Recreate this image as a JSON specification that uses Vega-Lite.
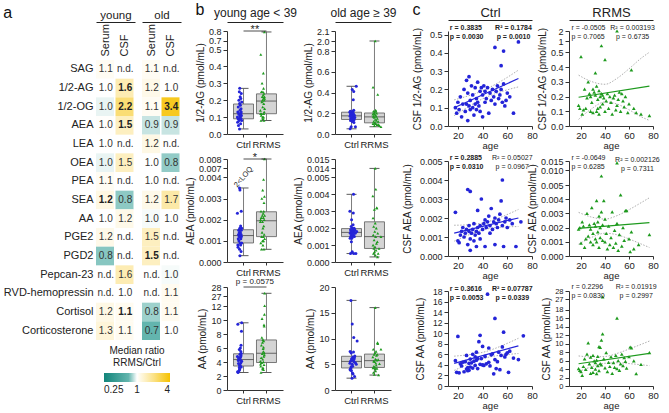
{
"$schema":"https://vega.github.io/schema/vega-lite/v6.json",
"padding":{"left":3,"top":2,"right":2,"bottom":1},
"config":{
 "font":"Liberation Sans",
 "view":{"stroke":null},
 "axis":{"labelFontSize":9,"titleFontSize":10,"titleFontWeight":"normal","labelColor":"#222","titleColor":"#222","domainColor":"#333","tickColor":"#333","tickSize":4,"labelPadding":2,"titlePadding":3,"grid":false,"labelOverlap":false,"labelFlush":false},
 "title":{"fontSize":16,"fontWeight":"normal","anchor":"start","color":"#111","frame":"bounds","offset":-12},
 "text":{"color":"#222"}
},
"datasets":{
"ann":[
{"id":"B11","g":"Ctrl","g2":"RRMS","v":0.8,"t":"**"},
{"id":"B21","g":"Ctrl","g2":"RRMS","v":0.008,"t":"*"},
{"id":"B21L","g":"Ctrl","v":0.0041,"t":"2<LOQ"},
{"id":"B31","g":"Ctrl","g2":"RRMS","v":28,"t":"p = 0.0575"},
{"id":"C11L","age":13.5,"v":0.52,"t":["r = 0.3835","p = 0.0030"]},
{"id":"C11R","age":65,"v":0.52,"t":["R² = 0.1784","p = 0.0010"]},
{"id":"C12L","age":12,"v":2,"t":["r = -0.0505","p = 0.7065"]},
{"id":"C12R","age":63,"v":2,"t":["R² = 0.003193","p = 0.6735"]},
{"id":"C21L","age":13.5,"v":0.005,"t":["r = 0.2885","p = 0.0310"]},
{"id":"C21R","age":64,"v":0.005,"t":["R² = 0.05027","p = 0.0967"]},
{"id":"C22L","age":12,"v":0.015,"t":["r = -0.0649","p = 0.6285"]},
{"id":"C22R","age":67,"v":0.015,"t":["R² = 0.002126","p = 0.7311"]},
{"id":"C31L","age":13.5,"v":18,"t":["r = 0.3616","p = 0.0053"]},
{"id":"C31R","age":64,"v":18,"t":["R² = 0.07787","p = 0.0339"]},
{"id":"C32L","age":12,"v":28,"t":["r = 0.2296","p = 0.0830"]},
{"id":"C32R","age":66,"v":28,"t":["R² = 0.01919","p = 0.2997"]}
],
"heat":[
{"m":"SAG","g":"young","t":"Serum","r":1.08,"l":"1.1","b":0},{"m":"SAG","g":"young","t":"CSF","r":null,"l":"n.d.","b":0},{"m":"SAG","g":"old","t":"Serum","r":1.08,"l":"1.1","b":0},{"m":"SAG","g":"old","t":"CSF","r":null,"l":"n.d.","b":0},
{"m":"1/2-AG","g":"young","t":"Serum","r":1.0,"l":"1.0","b":0},{"m":"1/2-AG","g":"young","t":"CSF","r":1.6,"l":"1.6","b":1},{"m":"1/2-AG","g":"old","t":"Serum","r":1.15,"l":"1.2","b":0},{"m":"1/2-AG","g":"old","t":"CSF","r":1.0,"l":"1.0","b":0},
{"m":"1/2-OG","g":"young","t":"Serum","r":0.95,"l":"1.0","b":0},{"m":"1/2-OG","g":"young","t":"CSF","r":2.2,"l":"2.2","b":1},{"m":"1/2-OG","g":"old","t":"Serum","r":1.08,"l":"1.1","b":0},{"m":"1/2-OG","g":"old","t":"CSF","r":3.4,"l":"3.4","b":1},
{"m":"AEA","g":"young","t":"Serum","r":1.02,"l":"1.0","b":0},{"m":"AEA","g":"young","t":"CSF","r":1.5,"l":"1.5","b":1},{"m":"AEA","g":"old","t":"Serum","r":0.88,"l":"0.9","b":0},{"m":"AEA","g":"old","t":"CSF","r":0.88,"l":"0.9","b":0},
{"m":"LEA","g":"young","t":"Serum","r":1.0,"l":"1.0","b":0},{"m":"LEA","g":"young","t":"CSF","r":null,"l":"n.d.","b":0},{"m":"LEA","g":"old","t":"Serum","r":1.18,"l":"1.2","b":0},{"m":"LEA","g":"old","t":"CSF","r":null,"l":"n.d.","b":0},
{"m":"OEA","g":"young","t":"Serum","r":0.95,"l":"1.0","b":0},{"m":"OEA","g":"young","t":"CSF","r":1.5,"l":"1.5","b":0},{"m":"OEA","g":"old","t":"Serum","r":1.0,"l":"1.0","b":0},{"m":"OEA","g":"old","t":"CSF","r":0.78,"l":"0.8","b":0},
{"m":"PEA","g":"young","t":"Serum","r":1.08,"l":"1.1","b":0},{"m":"PEA","g":"young","t":"CSF","r":null,"l":"n.d.","b":0},{"m":"PEA","g":"old","t":"Serum","r":1.0,"l":"1.0","b":0},{"m":"PEA","g":"old","t":"CSF","r":null,"l":"n.d.","b":0},
{"m":"SEA","g":"young","t":"Serum","r":1.2,"l":"1.2","b":1},{"m":"SEA","g":"young","t":"CSF","r":0.77,"l":"0.8","b":0},{"m":"SEA","g":"old","t":"Serum","r":1.15,"l":"1.2","b":0},{"m":"SEA","g":"old","t":"CSF","r":1.7,"l":"1.7","b":0},
{"m":"AA","g":"young","t":"Serum","r":1.0,"l":"1.0","b":0},{"m":"AA","g":"young","t":"CSF","r":1.15,"l":"1.2","b":0},{"m":"AA","g":"old","t":"Serum","r":0.98,"l":"1.0","b":0},{"m":"AA","g":"old","t":"CSF","r":1.0,"l":"1.0","b":0},
{"m":"PGE2","g":"young","t":"Serum","r":1.15,"l":"1.2","b":0},{"m":"PGE2","g":"young","t":"CSF","r":null,"l":"n.d.","b":0},{"m":"PGE2","g":"old","t":"Serum","r":1.5,"l":"1.5","b":0},{"m":"PGE2","g":"old","t":"CSF","r":null,"l":"n.d.","b":0},
{"m":"PGD2","g":"young","t":"Serum","r":0.76,"l":"0.8","b":0},{"m":"PGD2","g":"young","t":"CSF","r":null,"l":"n.d.","b":0},{"m":"PGD2","g":"old","t":"Serum","r":1.5,"l":"1.5","b":1},{"m":"PGD2","g":"old","t":"CSF","r":null,"l":"n.d.","b":0},
{"m":"Pepcan-23","g":"young","t":"Serum","r":null,"l":"n.d.","b":0},{"m":"Pepcan-23","g":"young","t":"CSF","r":1.6,"l":"1.6","b":0},{"m":"Pepcan-23","g":"old","t":"Serum","r":null,"l":"n.d.","b":0},{"m":"Pepcan-23","g":"old","t":"CSF","r":0.98,"l":"1.0","b":0},
{"m":"RVD-hemopressin","g":"young","t":"Serum","r":null,"l":"n.d.","b":0},{"m":"RVD-hemopressin","g":"young","t":"CSF","r":1.0,"l":"1.0","b":0},{"m":"RVD-hemopressin","g":"old","t":"Serum","r":null,"l":"n.d.","b":0},{"m":"RVD-hemopressin","g":"old","t":"CSF","r":1.1,"l":"1.1","b":0},
{"m":"Cortisol","g":"young","t":"Serum","r":1.18,"l":"1.2","b":0},{"m":"Cortisol","g":"young","t":"CSF","r":1.1,"l":"1.1","b":1},{"m":"Cortisol","g":"old","t":"Serum","r":0.8,"l":"0.8","b":0},{"m":"Cortisol","g":"old","t":"CSF","r":1.1,"l":"1.1","b":0},
{"m":"Corticosterone","g":"young","t":"Serum","r":1.28,"l":"1.3","b":0},{"m":"Corticosterone","g":"young","t":"CSF","r":1.1,"l":"1.1","b":0},{"m":"Corticosterone","g":"old","t":"Serum","r":0.7,"l":"0.7","b":0},{"m":"Corticosterone","g":"old","t":"CSF","r":1.0,"l":"1.0","b":0}
],
"pts":[
{"a":"AG","g":"Ctrl","age":18,"v":0.10},{"a":"AG","g":"Ctrl","age":19,"v":0.07},{"a":"AG","g":"Ctrl","age":20,"v":0.13},{"a":"AG","g":"Ctrl","age":21,"v":0.09},{"a":"AG","g":"Ctrl","age":22,"v":0.16},{"a":"AG","g":"Ctrl","age":23,"v":0.05},{"a":"AG","g":"Ctrl","age":24,"v":0.12},{"a":"AG","g":"Ctrl","age":25,"v":0.20},{"a":"AG","g":"Ctrl","age":26,"v":0.08},{"a":"AG","g":"Ctrl","age":27,"v":0.25},{"a":"AG","g":"Ctrl","age":27,"v":0.12},{"a":"AG","g":"Ctrl","age":28,"v":0.03},{"a":"AG","g":"Ctrl","age":28,"v":0.18},{"a":"AG","g":"Ctrl","age":29,"v":0.11},{"a":"AG","g":"Ctrl","age":29,"v":0.27},{"a":"AG","g":"Ctrl","age":30,"v":0.14},{"a":"AG","g":"Ctrl","age":30,"v":0.09},{"a":"AG","g":"Ctrl","age":31,"v":0.22},{"a":"AG","g":"Ctrl","age":32,"v":0.10},{"a":"AG","g":"Ctrl","age":32,"v":0.17},{"a":"AG","g":"Ctrl","age":33,"v":0.06},{"a":"AG","g":"Ctrl","age":34,"v":0.12},{"a":"AG","g":"Ctrl","age":34,"v":0.21},{"a":"AG","g":"Ctrl","age":35,"v":0.15},{"a":"AG","g":"Ctrl","age":35,"v":0.09},{"a":"AG","g":"Ctrl","age":36,"v":0.24},{"a":"AG","g":"Ctrl","age":36,"v":0.13},{"a":"AG","g":"Ctrl","age":37,"v":0.11},{"a":"AG","g":"Ctrl","age":38,"v":0.19},{"a":"AG","g":"Ctrl","age":38,"v":0.08},
{"a":"AG","g":"Ctrl","age":39,"v":0.21},{"a":"AG","g":"Ctrl","age":40,"v":0.17},{"a":"AG","g":"Ctrl","age":40,"v":0.05},{"a":"AG","g":"Ctrl","age":41,"v":0.22},{"a":"AG","g":"Ctrl","age":42,"v":0.13},{"a":"AG","g":"Ctrl","age":42,"v":0.19},{"a":"AG","g":"Ctrl","age":43,"v":0.15},{"a":"AG","g":"Ctrl","age":44,"v":0.21},{"a":"AG","g":"Ctrl","age":45,"v":0.07},{"a":"AG","g":"Ctrl","age":46,"v":0.18},{"a":"AG","g":"Ctrl","age":47,"v":0.14},{"a":"AG","g":"Ctrl","age":48,"v":0.20},{"a":"AG","g":"Ctrl","age":49,"v":0.16},{"a":"AG","g":"Ctrl","age":50,"v":0.43},{"a":"AG","g":"Ctrl","age":50,"v":0.12},{"a":"AG","g":"Ctrl","age":51,"v":0.19},{"a":"AG","g":"Ctrl","age":52,"v":0.22},{"a":"AG","g":"Ctrl","age":53,"v":0.15},{"a":"AG","g":"Ctrl","age":54,"v":0.17},{"a":"AG","g":"Ctrl","age":55,"v":0.33},{"a":"AG","g":"Ctrl","age":55,"v":0.20},{"a":"AG","g":"Ctrl","age":56,"v":0.13},{"a":"AG","g":"Ctrl","age":57,"v":0.41},{"a":"AG","g":"Ctrl","age":57,"v":0.23},{"a":"AG","g":"Ctrl","age":58,"v":0.11},{"a":"AG","g":"Ctrl","age":59,"v":0.14},{"a":"AG","g":"Ctrl","age":60,"v":0.18},{"a":"AG","g":"Ctrl","age":62,"v":0.16},{"a":"AG","g":"Ctrl","age":65,"v":0.07},{"a":"AG","g":"Ctrl","age":69,"v":0.46},
{"a":"AEA","g":"Ctrl","age":18,"v":0.0023},{"a":"AEA","g":"Ctrl","age":20,"v":0.0008},{"a":"AEA","g":"Ctrl","age":21,"v":0.0007},{"a":"AEA","g":"Ctrl","age":22,"v":0.0011},{"a":"AEA","g":"Ctrl","age":23,"v":0.0013},{"a":"AEA","g":"Ctrl","age":24,"v":0.0015},{"a":"AEA","g":"Ctrl","age":25,"v":0.0010},{"a":"AEA","g":"Ctrl","age":26,"v":0.0012},{"a":"AEA","g":"Ctrl","age":27,"v":0.0014},{"a":"AEA","g":"Ctrl","age":28,"v":0.0035},{"a":"AEA","g":"Ctrl","age":28,"v":0.0006},{"a":"AEA","g":"Ctrl","age":29,"v":0.0013},{"a":"AEA","g":"Ctrl","age":29,"v":0.0016},{"a":"AEA","g":"Ctrl","age":30,"v":0.0034},{"a":"AEA","g":"Ctrl","age":30,"v":0.0009},{"a":"AEA","g":"Ctrl","age":30,"v":0.0003},{"a":"AEA","g":"Ctrl","age":31,"v":0.0012},{"a":"AEA","g":"Ctrl","age":32,"v":0.0014},{"a":"AEA","g":"Ctrl","age":33,"v":0.0008},{"a":"AEA","g":"Ctrl","age":33,"v":0.0017},{"a":"AEA","g":"Ctrl","age":34,"v":0.0011},{"a":"AEA","g":"Ctrl","age":35,"v":0.0013},{"a":"AEA","g":"Ctrl","age":35,"v":0.0005},{"a":"AEA","g":"Ctrl","age":36,"v":0.0024},{"a":"AEA","g":"Ctrl","age":36,"v":0.0015},{"a":"AEA","g":"Ctrl","age":37,"v":0.0012},{"a":"AEA","g":"Ctrl","age":38,"v":0.0009},{"a":"AEA","g":"Ctrl","age":38,"v":0.0016},
{"a":"AEA","g":"Ctrl","age":39,"v":0.0030},{"a":"AEA","g":"Ctrl","age":40,"v":0.0014},{"a":"AEA","g":"Ctrl","age":41,"v":0.0017},{"a":"AEA","g":"Ctrl","age":42,"v":0.0005},{"a":"AEA","g":"Ctrl","age":42,"v":0.0019},{"a":"AEA","g":"Ctrl","age":43,"v":0.0015},{"a":"AEA","g":"Ctrl","age":44,"v":0.0018},{"a":"AEA","g":"Ctrl","age":45,"v":0.0021},{"a":"AEA","g":"Ctrl","age":46,"v":0.0012},{"a":"AEA","g":"Ctrl","age":46,"v":0.0016},{"a":"AEA","g":"Ctrl","age":47,"v":0.0025},{"a":"AEA","g":"Ctrl","age":48,"v":0.0014},{"a":"AEA","g":"Ctrl","age":49,"v":0.0018},{"a":"AEA","g":"Ctrl","age":50,"v":0.0020},{"a":"AEA","g":"Ctrl","age":50,"v":0.0006},{"a":"AEA","g":"Ctrl","age":51,"v":0.0017},{"a":"AEA","g":"Ctrl","age":52,"v":0.0015},{"a":"AEA","g":"Ctrl","age":53,"v":0.0019},{"a":"AEA","g":"Ctrl","age":54,"v":0.0022},{"a":"AEA","g":"Ctrl","age":55,"v":0.0029},{"a":"AEA","g":"Ctrl","age":56,"v":0.0040},{"a":"AEA","g":"Ctrl","age":56,"v":0.0016},{"a":"AEA","g":"Ctrl","age":57,"v":0.0005},{"a":"AEA","g":"Ctrl","age":58,"v":0.0018},{"a":"AEA","g":"Ctrl","age":59,"v":0.0020},{"a":"AEA","g":"Ctrl","age":60,"v":0.0015},{"a":"AEA","g":"Ctrl","age":62,"v":0.0019},{"a":"AEA","g":"Ctrl","age":64,"v":0.0017},{"a":"AEA","g":"Ctrl","age":67,"v":0.0005},{"a":"AEA","g":"Ctrl","age":71,"v":0.0018},
{"a":"AA","g":"Ctrl","age":18,"v":4.8},{"a":"AA","g":"Ctrl","age":19,"v":2.6},{"a":"AA","g":"Ctrl","age":20,"v":9.4},{"a":"AA","g":"Ctrl","age":21,"v":2.5},{"a":"AA","g":"Ctrl","age":22,"v":4.2},{"a":"AA","g":"Ctrl","age":23,"v":3.8},{"a":"AA","g":"Ctrl","age":24,"v":4.5},{"a":"AA","g":"Ctrl","age":25,"v":2.7},{"a":"AA","g":"Ctrl","age":26,"v":4.6},{"a":"AA","g":"Ctrl","age":27,"v":3.2},{"a":"AA","g":"Ctrl","age":27,"v":5.8},{"a":"AA","g":"Ctrl","age":28,"v":3.5},{"a":"AA","g":"Ctrl","age":28,"v":2.9},{"a":"AA","g":"Ctrl","age":29,"v":4.3},{"a":"AA","g":"Ctrl","age":29,"v":3.0},{"a":"AA","g":"Ctrl","age":30,"v":5.1},{"a":"AA","g":"Ctrl","age":30,"v":3.6},{"a":"AA","g":"Ctrl","age":31,"v":4.4},{"a":"AA","g":"Ctrl","age":32,"v":6.0},{"a":"AA","g":"Ctrl","age":32,"v":3.4},{"a":"AA","g":"Ctrl","age":33,"v":4.7},{"a":"AA","g":"Ctrl","age":34,"v":5.5},{"a":"AA","g":"Ctrl","age":34,"v":3.9},{"a":"AA","g":"Ctrl","age":35,"v":4.9},{"a":"AA","g":"Ctrl","age":35,"v":6.4},{"a":"AA","g":"Ctrl","age":36,"v":3.3},{"a":"AA","g":"Ctrl","age":36,"v":5.2},{"a":"AA","g":"Ctrl","age":37,"v":8.4},{"a":"AA","g":"Ctrl","age":38,"v":9.6},{"a":"AA","g":"Ctrl","age":38,"v":4.1},
{"a":"AA","g":"Ctrl","age":39,"v":5.2},{"a":"AA","g":"Ctrl","age":40,"v":4.0},{"a":"AA","g":"Ctrl","age":40,"v":7.5},{"a":"AA","g":"Ctrl","age":41,"v":3.9},{"a":"AA","g":"Ctrl","age":42,"v":5.6},{"a":"AA","g":"Ctrl","age":43,"v":4.2},{"a":"AA","g":"Ctrl","age":44,"v":17.4},{"a":"AA","g":"Ctrl","age":45,"v":7.2},{"a":"AA","g":"Ctrl","age":45,"v":4.5},{"a":"AA","g":"Ctrl","age":46,"v":3.8},{"a":"AA","g":"Ctrl","age":47,"v":5.9},{"a":"AA","g":"Ctrl","age":48,"v":6.1},{"a":"AA","g":"Ctrl","age":49,"v":2.3},{"a":"AA","g":"Ctrl","age":50,"v":12.8},{"a":"AA","g":"Ctrl","age":50,"v":5.0},{"a":"AA","g":"Ctrl","age":51,"v":3.3},{"a":"AA","g":"Ctrl","age":52,"v":4.6},{"a":"AA","g":"Ctrl","age":53,"v":6.4},{"a":"AA","g":"Ctrl","age":54,"v":3.1},{"a":"AA","g":"Ctrl","age":55,"v":5.8},{"a":"AA","g":"Ctrl","age":56,"v":7.4},{"a":"AA","g":"Ctrl","age":57,"v":10.2},{"a":"AA","g":"Ctrl","age":58,"v":5.5},{"a":"AA","g":"Ctrl","age":59,"v":6.0},{"a":"AA","g":"Ctrl","age":60,"v":6.3},{"a":"AA","g":"Ctrl","age":61,"v":2.6},{"a":"AA","g":"Ctrl","age":62,"v":6.6},{"a":"AA","g":"Ctrl","age":65,"v":5.3},{"a":"AA","g":"Ctrl","age":69,"v":5.0},{"a":"AA","g":"Ctrl","age":73,"v":9.5},
{"a":"AG","g":"RRMS","age":18,"v":0.14},{"a":"AG","g":"RRMS","age":19,"v":0.12},{"a":"AG","g":"RRMS","age":20,"v":0.47},{"a":"AG","g":"RRMS","age":21,"v":0.08},{"a":"AG","g":"RRMS","age":22,"v":0.11},{"a":"AG","g":"RRMS","age":23,"v":0.25},{"a":"AG","g":"RRMS","age":24,"v":0.12},{"a":"AG","g":"RRMS","age":25,"v":0.19},{"a":"AG","g":"RRMS","age":26,"v":0.30},{"a":"AG","g":"RRMS","age":27,"v":0.22},{"a":"AG","g":"RRMS","age":28,"v":0.10},{"a":"AG","g":"RRMS","age":28,"v":0.20},{"a":"AG","g":"RRMS","age":29,"v":0.16},{"a":"AG","g":"RRMS","age":30,"v":0.25},{"a":"AG","g":"RRMS","age":30,"v":0.09},{"a":"AG","g":"RRMS","age":31,"v":0.23},{"a":"AG","g":"RRMS","age":32,"v":0.36},{"a":"AG","g":"RRMS","age":32,"v":0.21},{"a":"AG","g":"RRMS","age":33,"v":0.10},{"a":"AG","g":"RRMS","age":33,"v":0.27},{"a":"AG","g":"RRMS","age":34,"v":0.18},{"a":"AG","g":"RRMS","age":34,"v":0.12},{"a":"AG","g":"RRMS","age":35,"v":0.24},{"a":"AG","g":"RRMS","age":35,"v":0.08},{"a":"AG","g":"RRMS","age":36,"v":0.20},{"a":"AG","g":"RRMS","age":36,"v":0.13},{"a":"AG","g":"RRMS","age":37,"v":0.79},{"a":"AG","g":"RRMS","age":37,"v":0.22},{"a":"AG","g":"RRMS","age":38,"v":0.21},{"a":"AG","g":"RRMS","age":38,"v":0.15},
{"a":"AG","g":"RRMS","age":39,"v":0.19},{"a":"AG","g":"RRMS","age":40,"v":0.45},{"a":"AG","g":"RRMS","age":40,"v":0.10},{"a":"AG","g":"RRMS","age":41,"v":0.17},{"a":"AG","g":"RRMS","age":42,"v":0.22},{"a":"AG","g":"RRMS","age":43,"v":0.12},{"a":"AG","g":"RRMS","age":44,"v":0.20},{"a":"AG","g":"RRMS","age":45,"v":0.16},{"a":"AG","g":"RRMS","age":46,"v":0.08},{"a":"AG","g":"RRMS","age":47,"v":0.19},{"a":"AG","g":"RRMS","age":48,"v":0.21},{"a":"AG","g":"RRMS","age":49,"v":0.11},{"a":"AG","g":"RRMS","age":50,"v":2.0},{"a":"AG","g":"RRMS","age":50,"v":0.14},{"a":"AG","g":"RRMS","age":51,"v":0.18},{"a":"AG","g":"RRMS","age":52,"v":0.23},{"a":"AG","g":"RRMS","age":53,"v":0.10},{"a":"AG","g":"RRMS","age":54,"v":0.22},{"a":"AG","g":"RRMS","age":55,"v":0.17},{"a":"AG","g":"RRMS","age":56,"v":0.13},{"a":"AG","g":"RRMS","age":57,"v":0.20},{"a":"AG","g":"RRMS","age":59,"v":0.09},{"a":"AG","g":"RRMS","age":60,"v":0.15},{"a":"AG","g":"RRMS","age":62,"v":0.38},{"a":"AG","g":"RRMS","age":64,"v":0.12},{"a":"AG","g":"RRMS","age":66,"v":0.09},{"a":"AG","g":"RRMS","age":70,"v":0.08},{"a":"AG","g":"RRMS","age":77,"v":0.07},
{"a":"AEA","g":"RRMS","age":18,"v":0.0019},{"a":"AEA","g":"RRMS","age":19,"v":0.0020},{"a":"AEA","g":"RRMS","age":20,"v":0.0009},{"a":"AEA","g":"RRMS","age":21,"v":0.0024},{"a":"AEA","g":"RRMS","age":22,"v":0.0021},{"a":"AEA","g":"RRMS","age":23,"v":0.0006},{"a":"AEA","g":"RRMS","age":24,"v":0.0012},{"a":"AEA","g":"RRMS","age":25,"v":0.0030},{"a":"AEA","g":"RRMS","age":26,"v":0.0014},{"a":"AEA","g":"RRMS","age":27,"v":0.0022},{"a":"AEA","g":"RRMS","age":28,"v":0.0010},{"a":"AEA","g":"RRMS","age":28,"v":0.0019},{"a":"AEA","g":"RRMS","age":29,"v":0.0034},{"a":"AEA","g":"RRMS","age":30,"v":0.0016},{"a":"AEA","g":"RRMS","age":30,"v":0.0008},{"a":"AEA","g":"RRMS","age":31,"v":0.0023},{"a":"AEA","g":"RRMS","age":32,"v":0.0012},{"a":"AEA","g":"RRMS","age":32,"v":0.0021},{"a":"AEA","g":"RRMS","age":33,"v":0.0039},{"a":"AEA","g":"RRMS","age":33,"v":0.0010},{"a":"AEA","g":"RRMS","age":34,"v":0.0024},{"a":"AEA","g":"RRMS","age":34,"v":0.0017},{"a":"AEA","g":"RRMS","age":35,"v":0.0006},{"a":"AEA","g":"RRMS","age":35,"v":0.0028},{"a":"AEA","g":"RRMS","age":36,"v":0.0020},{"a":"AEA","g":"RRMS","age":36,"v":0.0013},{"a":"AEA","g":"RRMS","age":37,"v":0.0080},{"a":"AEA","g":"RRMS","age":37,"v":0.0031},{"a":"AEA","g":"RRMS","age":38,"v":0.0022},{"a":"AEA","g":"RRMS","age":38,"v":0.0011},
{"a":"AEA","g":"RRMS","age":39,"v":0.0039},{"a":"AEA","g":"RRMS","age":40,"v":0.0010},{"a":"AEA","g":"RRMS","age":40,"v":0.0026},{"a":"AEA","g":"RRMS","age":41,"v":0.0016},{"a":"AEA","g":"RRMS","age":42,"v":0.0005},{"a":"AEA","g":"RRMS","age":43,"v":0.0021},{"a":"AEA","g":"RRMS","age":44,"v":0.0008},{"a":"AEA","g":"RRMS","age":45,"v":0.0013},{"a":"AEA","g":"RRMS","age":46,"v":0.0031},{"a":"AEA","g":"RRMS","age":47,"v":0.0006},{"a":"AEA","g":"RRMS","age":48,"v":0.0018},{"a":"AEA","g":"RRMS","age":49,"v":0.0009},{"a":"AEA","g":"RRMS","age":50,"v":0.0140},{"a":"AEA","g":"RRMS","age":50,"v":0.0023},{"a":"AEA","g":"RRMS","age":51,"v":0.0004},{"a":"AEA","g":"RRMS","age":52,"v":0.0015},{"a":"AEA","g":"RRMS","age":53,"v":0.0043},{"a":"AEA","g":"RRMS","age":54,"v":0.0007},{"a":"AEA","g":"RRMS","age":55,"v":0.0020},{"a":"AEA","g":"RRMS","age":56,"v":0.0011},{"a":"AEA","g":"RRMS","age":57,"v":0.0032},{"a":"AEA","g":"RRMS","age":58,"v":0.0032},{"a":"AEA","g":"RRMS","age":60,"v":0.0012},{"a":"AEA","g":"RRMS","age":61,"v":0.0003},{"a":"AEA","g":"RRMS","age":62,"v":0.0017},{"a":"AEA","g":"RRMS","age":64,"v":0.0005},{"a":"AEA","g":"RRMS","age":68,"v":0.0008},{"a":"AEA","g":"RRMS","age":77,"v":0.0015},
{"a":"AA","g":"RRMS","age":18,"v":4.1},{"a":"AA","g":"RRMS","age":19,"v":3.7},{"a":"AA","g":"RRMS","age":20,"v":3.4},{"a":"AA","g":"RRMS","age":21,"v":2.5},{"a":"AA","g":"RRMS","age":22,"v":4.6},{"a":"AA","g":"RRMS","age":23,"v":6.4},{"a":"AA","g":"RRMS","age":24,"v":3.9},{"a":"AA","g":"RRMS","age":25,"v":7.5},{"a":"AA","g":"RRMS","age":26,"v":10.2},{"a":"AA","g":"RRMS","age":27,"v":5.2},{"a":"AA","g":"RRMS","age":28,"v":3.0},{"a":"AA","g":"RRMS","age":28,"v":6.8},{"a":"AA","g":"RRMS","age":29,"v":4.4},{"a":"AA","g":"RRMS","age":30,"v":7.2},{"a":"AA","g":"RRMS","age":30,"v":3.2},{"a":"AA","g":"RRMS","age":31,"v":5.9},{"a":"AA","g":"RRMS","age":32,"v":4.0},{"a":"AA","g":"RRMS","age":32,"v":5.5},{"a":"AA","g":"RRMS","age":33,"v":6.1},{"a":"AA","g":"RRMS","age":33,"v":2.9},{"a":"AA","g":"RRMS","age":34,"v":7.0},{"a":"AA","g":"RRMS","age":34,"v":4.8},{"a":"AA","g":"RRMS","age":35,"v":9.3},{"a":"AA","g":"RRMS","age":35,"v":3.6},{"a":"AA","g":"RRMS","age":36,"v":5.3},{"a":"AA","g":"RRMS","age":36,"v":9.1},{"a":"AA","g":"RRMS","age":37,"v":10.8},{"a":"AA","g":"RRMS","age":37,"v":5.0},{"a":"AA","g":"RRMS","age":38,"v":27.3},{"a":"AA","g":"RRMS","age":38,"v":12.3},
{"a":"AA","g":"RRMS","age":39,"v":6.4},{"a":"AA","g":"RRMS","age":40,"v":4.3},{"a":"AA","g":"RRMS","age":41,"v":7.9},{"a":"AA","g":"RRMS","age":42,"v":3.4},{"a":"AA","g":"RRMS","age":43,"v":5.6},{"a":"AA","g":"RRMS","age":44,"v":4.6},{"a":"AA","g":"RRMS","age":45,"v":6.9},{"a":"AA","g":"RRMS","age":46,"v":3.0},{"a":"AA","g":"RRMS","age":47,"v":5.5},{"a":"AA","g":"RRMS","age":48,"v":4.4},{"a":"AA","g":"RRMS","age":49,"v":7.2},{"a":"AA","g":"RRMS","age":50,"v":16.0},{"a":"AA","g":"RRMS","age":50,"v":4.1},{"a":"AA","g":"RRMS","age":51,"v":6.0},{"a":"AA","g":"RRMS","age":52,"v":3.7},{"a":"AA","g":"RRMS","age":53,"v":5.2},{"a":"AA","g":"RRMS","age":54,"v":7.5},{"a":"AA","g":"RRMS","age":55,"v":4.8},{"a":"AA","g":"RRMS","age":56,"v":6.7},{"a":"AA","g":"RRMS","age":57,"v":5.8},{"a":"AA","g":"RRMS","age":58,"v":4.2},{"a":"AA","g":"RRMS","age":60,"v":6.9},{"a":"AA","g":"RRMS","age":61,"v":9.2},{"a":"AA","g":"RRMS","age":62,"v":9.0},{"a":"AA","g":"RRMS","age":64,"v":5.9},{"a":"AA","g":"RRMS","age":66,"v":2.9},{"a":"AA","g":"RRMS","age":70,"v":5.1},{"a":"AA","g":"RRMS","age":77,"v":7.9}
],
"fit":[
{"a":"AG","g":"Ctrl","k":"fit","age":17,"v":0.100},{"a":"AG","g":"Ctrl","k":"fit","age":69,"v":0.260},
{"a":"AG","g":"Ctrl","k":"hi","age":17,"v":0.143},{"a":"AG","g":"Ctrl","k":"hi","age":25,"v":0.158},{"a":"AG","g":"Ctrl","k":"hi","age":33,"v":0.175},{"a":"AG","g":"Ctrl","k":"hi","age":42,"v":0.199},{"a":"AG","g":"Ctrl","k":"hi","age":50,"v":0.227},{"a":"AG","g":"Ctrl","k":"hi","age":58,"v":0.258},{"a":"AG","g":"Ctrl","k":"hi","age":69,"v":0.306},
{"a":"AG","g":"Ctrl","k":"lo","age":17,"v":0.057},{"a":"AG","g":"Ctrl","k":"lo","age":25,"v":0.091},{"a":"AG","g":"Ctrl","k":"lo","age":33,"v":0.124},{"a":"AG","g":"Ctrl","k":"lo","age":42,"v":0.155},{"a":"AG","g":"Ctrl","k":"lo","age":50,"v":0.176},{"a":"AG","g":"Ctrl","k":"lo","age":58,"v":0.194},{"a":"AG","g":"Ctrl","k":"lo","age":69,"v":0.214},
{"a":"AEA","g":"Ctrl","k":"fit","age":17,"v":0.0012},{"a":"AEA","g":"Ctrl","k":"fit","age":69,"v":0.0020},
{"a":"AEA","g":"Ctrl","k":"hi","age":17,"v":0.00162},{"a":"AEA","g":"Ctrl","k":"hi","age":25,"v":0.00163},{"a":"AEA","g":"Ctrl","k":"hi","age":33,"v":0.00168},{"a":"AEA","g":"Ctrl","k":"hi","age":42,"v":0.00176},{"a":"AEA","g":"Ctrl","k":"hi","age":50,"v":0.00193},{"a":"AEA","g":"Ctrl","k":"hi","age":58,"v":0.00213},{"a":"AEA","g":"Ctrl","k":"hi","age":69,"v":0.00245},
{"a":"AEA","g":"Ctrl","k":"lo","age":17,"v":0.00078},{"a":"AEA","g":"Ctrl","k":"lo","age":25,"v":0.00101},{"a":"AEA","g":"Ctrl","k":"lo","age":33,"v":0.00122},{"a":"AEA","g":"Ctrl","k":"lo","age":42,"v":0.00140},{"a":"AEA","g":"Ctrl","k":"lo","age":50,"v":0.00149},{"a":"AEA","g":"Ctrl","k":"lo","age":58,"v":0.00153},{"a":"AEA","g":"Ctrl","k":"lo","age":69,"v":0.00155},
{"a":"AA","g":"Ctrl","k":"fit","age":17,"v":4.3},{"a":"AA","g":"Ctrl","k":"fit","age":69,"v":7.6},
{"a":"AA","g":"Ctrl","k":"hi","age":17,"v":5.65},{"a":"AA","g":"Ctrl","k":"hi","age":25,"v":5.83},{"a":"AA","g":"Ctrl","k":"hi","age":33,"v":6.06},{"a":"AA","g":"Ctrl","k":"hi","age":42,"v":6.49},{"a":"AA","g":"Ctrl","k":"hi","age":50,"v":7.11},{"a":"AA","g":"Ctrl","k":"hi","age":58,"v":7.88},{"a":"AA","g":"Ctrl","k":"hi","age":69,"v":9.04},
{"a":"AA","g":"Ctrl","k":"lo","age":17,"v":2.95},{"a":"AA","g":"Ctrl","k":"lo","age":25,"v":3.79},{"a":"AA","g":"Ctrl","k":"lo","age":33,"v":4.58},{"a":"AA","g":"Ctrl","k":"lo","age":42,"v":5.29},{"a":"AA","g":"Ctrl","k":"lo","age":50,"v":5.69},{"a":"AA","g":"Ctrl","k":"lo","age":58,"v":5.92},{"a":"AA","g":"Ctrl","k":"lo","age":69,"v":6.16},
{"a":"AG","g":"RRMS","k":"fit","age":18,"v":0.195},{"a":"AG","g":"RRMS","k":"fit","age":77,"v":0.270},
{"a":"AG","g":"RRMS","k":"hi","age":18,"v":0.345},{"a":"AG","g":"RRMS","k":"hi","age":28,"v":0.304},{"a":"AG","g":"RRMS","k":"hi","age":40,"v":0.283},{"a":"AG","g":"RRMS","k":"hi","age":50,"v":0.323},{"a":"AG","g":"RRMS","k":"hi","age":60,"v":0.388},{"a":"AG","g":"RRMS","k":"hi","age":70,"v":0.459},{"a":"AG","g":"RRMS","k":"hi","age":77,"v":0.502},
{"a":"AG","g":"RRMS","k":"lo","age":18,"v":0.045},{"a":"AG","g":"RRMS","k":"lo","age":28,"v":0.112},{"a":"AG","g":"RRMS","k":"lo","age":40,"v":0.163},{"a":"AG","g":"RRMS","k":"lo","age":50,"v":0.149},{"a":"AG","g":"RRMS","k":"lo","age":60,"v":0.110},{"a":"AG","g":"RRMS","k":"lo","age":70,"v":0.063},{"a":"AG","g":"RRMS","k":"lo","age":77,"v":0.038},
{"a":"AEA","g":"RRMS","k":"fit","age":18,"v":0.00195},{"a":"AEA","g":"RRMS","k":"fit","age":77,"v":0.00235},
{"a":"AEA","g":"RRMS","k":"hi","age":18,"v":0.00307},{"a":"AEA","g":"RRMS","k":"hi","age":28,"v":0.00276},{"a":"AEA","g":"RRMS","k":"hi","age":40,"v":0.00260},{"a":"AEA","g":"RRMS","k":"hi","age":50,"v":0.00284},{"a":"AEA","g":"RRMS","k":"hi","age":60,"v":0.00326},{"a":"AEA","g":"RRMS","k":"hi","age":70,"v":0.00375},{"a":"AEA","g":"RRMS","k":"hi","age":77,"v":0.00410},
{"a":"AEA","g":"RRMS","k":"lo","age":18,"v":0.00083},{"a":"AEA","g":"RRMS","k":"lo","age":28,"v":0.00128},{"a":"AEA","g":"RRMS","k":"lo","age":40,"v":0.00160},{"a":"AEA","g":"RRMS","k":"lo","age":50,"v":0.00150},{"a":"AEA","g":"RRMS","k":"lo","age":60,"v":0.00120},{"a":"AEA","g":"RRMS","k":"lo","age":70,"v":0.00085},{"a":"AEA","g":"RRMS","k":"lo","age":77,"v":0.00060},
{"a":"AA","g":"RRMS","k":"fit","age":18,"v":5.25},{"a":"AA","g":"RRMS","k":"fit","age":77,"v":7.7},
{"a":"AA","g":"RRMS","k":"hi","age":18,"v":7.09},{"a":"AA","g":"RRMS","k":"hi","age":28,"v":6.88},{"a":"AA","g":"RRMS","k":"hi","age":40,"v":6.96},{"a":"AA","g":"RRMS","k":"hi","age":50,"v":7.68},{"a":"AA","g":"RRMS","k":"hi","age":60,"v":8.71},{"a":"AA","g":"RRMS","k":"hi","age":70,"v":9.81},{"a":"AA","g":"RRMS","k":"hi","age":77,"v":10.6},
{"a":"AA","g":"RRMS","k":"lo","age":18,"v":3.41},{"a":"AA","g":"RRMS","k":"lo","age":28,"v":4.46},{"a":"AA","g":"RRMS","k":"lo","age":40,"v":5.36},{"a":"AA","g":"RRMS","k":"lo","age":50,"v":5.48},{"a":"AA","g":"RRMS","k":"lo","age":60,"v":5.29},{"a":"AA","g":"RRMS","k":"lo","age":70,"v":5.01},{"a":"AA","g":"RRMS","k":"lo","age":77,"v":4.80}
]
},
"columns":3,
"align":"none",
"spacing":4,
"resolve":{"scale":{"color":"independent","shape":"independent"}},
"concat":[
{
 "spacing":7,
 "bounds":"flush",
 "resolve":{"scale":{"color":"independent"}},
 "hconcat":[
  {
   "title":{"text":"a"},
   "width":39,"height":309,
   "data":{"name":"heat"},
   "transform":[{"filter":"datum.g=='young'"}],
   "encoding":{
    "x":{"field":"t","type":"nominal","sort":["Serum","CSF"],"scale":{"paddingInner":0,"paddingOuter":0},"axis":{"orient":"top","offset":-29,"title":null,"labelAngle":-90,"domain":false,"ticks":false,"labelPadding":4,"labelFontSize":11}},
    "y":{"field":"m","type":"nominal","sort":["SAG","1/2-AG","1/2-OG","AEA","LEA","OEA","PEA","SEA","AA","PGE2","PGD2","Pepcan-23","RVD-hemopressin","Cortisol","Corticosterone"],"scale":{"paddingInner":0,"paddingOuter":0,"range":[29,309]},"axis":{"title":null,"domain":false,"ticks":false,"labelPadding":3,"labelFontSize":11}}
   },
   "layer":[
    {"transform":[{"filter":"isValid(datum.r)"}],"mark":{"type":"rect"},"encoding":{"color":{"field":"r","type":"quantitative","scale":{"type":"log","domain":[0.25,0.7,1,1.5,4],"range":["#12857a","#63b5ae","#ffffff","#fdefc0","#f6c200"],"interpolate":"rgb"},"legend":{"orient":"none","legendX":8,"legendY":315,"direction":"horizontal","title":["Median ratio","RRMS/Ctrl"],"titleFontSize":10,"titleFontWeight":"normal","titleColor":"#222","titleAlign":"center","titleAnchor":"middle","gradientLength":66,"gradientThickness":9,"values":[0.25,1,4],"format":"~g","labelFontSize":10,"labelAlign":"center","labelColor":"#222","labelOffset":3}}}},
    {"transform":[{"filter":"datum.b==0"}],"mark":{"type":"text","fontSize":10,"color":"#333"},"encoding":{"x":{"field":"t","type":"nominal","sort":["Serum","CSF"],"axis":null},"text":{"field":"l","type":"nominal"}}},
    {"transform":[{"filter":"datum.b==1"}],"mark":{"type":"text","fontSize":10,"fontWeight":"bold","color":"#222"},"encoding":{"x":{"field":"t","type":"nominal","sort":["Serum","CSF"],"axis":{"orient":"top","labels":false,"ticks":false,"domain":true,"domainColor":"#222","offset":9,"title":"young","titleFontSize":11.5,"titlePadding":2}},"text":{"field":"l","type":"nominal"}}}
   ],
   "resolve":{"axis":{"x":"independent"}}
  },
  {
   "width":39,"height":309,
   "data":{"name":"heat"},
   "transform":[{"filter":"datum.g=='old'"}],
   "encoding":{
    "x":{"field":"t","type":"nominal","sort":["Serum","CSF"],"scale":{"paddingInner":0,"paddingOuter":0},"axis":{"orient":"top","offset":-29,"title":null,"labelAngle":-90,"domain":false,"ticks":false,"labelPadding":4,"labelFontSize":11}},
    "y":{"field":"m","type":"nominal","sort":["SAG","1/2-AG","1/2-OG","AEA","LEA","OEA","PEA","SEA","AA","PGE2","PGD2","Pepcan-23","RVD-hemopressin","Cortisol","Corticosterone"],"scale":{"paddingInner":0,"paddingOuter":0,"range":[29,309]},"axis":null}
   },
   "layer":[
    {"transform":[{"filter":"isValid(datum.r)"}],"mark":{"type":"rect"},"encoding":{"color":{"field":"r","type":"quantitative","scale":{"type":"log","domain":[0.25,0.7,1,1.5,4],"range":["#12857a","#63b5ae","#ffffff","#fdefc0","#f6c200"],"interpolate":"rgb"},"legend":null}}},
    {"transform":[{"filter":"datum.b==0"}],"mark":{"type":"text","fontSize":10,"color":"#333"},"encoding":{"x":{"field":"t","type":"nominal","sort":["Serum","CSF"],"axis":null},"text":{"field":"l","type":"nominal"}}},
    {"transform":[{"filter":"datum.b==1"}],"mark":{"type":"text","fontSize":10,"fontWeight":"bold","color":"#222"},"encoding":{"x":{"field":"t","type":"nominal","sort":["Serum","CSF"],"axis":{"orient":"top","labels":false,"ticks":false,"domain":true,"domainColor":"#222","offset":9,"title":"old","titleFontSize":11.5,"titlePadding":2}},"text":{"field":"l","type":"nominal"}}}
   ],
   "resolve":{"axis":{"x":"independent"}}
  }
 ]
},
{
 "columns":2,
 "bounds":"flush",
 "spacing":{"row":25,"column":52},
 "concat":[
  {
   "title":{"text":"b"},
   "width":56,"height":103,
   "data":{"name":"pts"},
   "encoding":{
    "x":{"field":"g","type":"nominal","scale":{"domain":["Ctrl","RRMS"],"paddingInner":0.1,"paddingOuter":0.27},"axis":{"title":null,"labelAngle":0,"labelFontSize":9.5,"tickSize":3}},
    "y":{"field":"v","type":"quantitative","scale":{"domain":[0,0.5,0.7,0.8],"range":[103,18.5,9.6,0],"nice":false,"zero":false},"axis":{"values":[0,0.1,0.2,0.3,0.4,0.5,0.7,0.8],"format":".1f","title":"1/2-AG (pmol/mL)"}}
   },
   "layer":[
    {"transform":[{"filter":"datum.a=='AG' && datum.age<39"}],"mark":{"type":"boxplot","extent":"min-max","size":20,"box":{"color":"#d4d4d4","stroke":"#5a5a5a","strokeWidth":0.8},"median":{"color":"#333","strokeWidth":1},"rule":{"color":"#5a5a5a","strokeWidth":0.8},"ticks":{"color":"#5a5a5a","size":10}}},
    {"transform":[{"filter":"datum.a=='AG' && datum.age<39"}],"mark":{"type":"point","filled":true,"size":9,"opacity":1,"strokeWidth":0},"encoding":{"x":{"field":"g","type":"nominal","axis":{"orient":"top","labels":false,"ticks":false,"domain":true,"domainColor":"#222","offset":9,"title":"young  age < 39","titleFontSize":12,"titlePadding":3}},"xOffset":{"field":"age","type":"quantitative","scale":{"domain":[17,39],"range":[4,17],"zero":false,"nice":false}},"color":{"field":"g","type":"nominal","scale":{"domain":["Ctrl","RRMS"],"range":["#2424d8","#1e9a1e"]},"legend":null},"shape":{"field":"g","type":"nominal","scale":{"domain":["Ctrl","RRMS"],"range":["circle","triangle-up"]},"legend":null}}},
    {"data":{"name":"ann"},"transform":[{"filter":"datum.id=='B11'"}],"mark":{"type":"rule","color":"#222","strokeWidth":0.8},"encoding":{"x":{"field":"g","type":"nominal","bandPosition":0.5,"axis":null},"x2":{"field":"g2","bandPosition":0.5}}},
    {"data":{"name":"ann"},"transform":[{"filter":"datum.id=='B11'"}],"mark":{"type":"text","fontSize":11,"baseline":"bottom","dy":4},"encoding":{"x":{"field":"g","type":"nominal","bandPosition":1.05,"axis":null},"text":{"field":"t"}}}
   ],
   "resolve":{"axis":{"x":"independent"}}
  },
  {
   "width":56,"height":103,
   "data":{"name":"pts"},
   "encoding":{
    "x":{"field":"g","type":"nominal","scale":{"domain":["Ctrl","RRMS"],"paddingInner":0.1,"paddingOuter":0.27},"axis":{"title":null,"labelAngle":0,"labelFontSize":9.5,"tickSize":3}},
    "y":{"field":"v","type":"quantitative","scale":{"domain":[0,0.8,2.0,2.1],"range":[103,20,10,0],"nice":false,"zero":false},"axis":{"values":[0,0.2,0.4,0.6,0.8,2.0,2.1],"format":".1f","title":"1/2-AG (pmol/mL)"}}
   },
   "layer":[
    {"transform":[{"filter":"datum.a=='AG' && datum.age>=39"}],"mark":{"type":"boxplot","extent":"min-max","size":20,"box":{"color":"#d4d4d4","stroke":"#5a5a5a","strokeWidth":0.8},"median":{"color":"#333","strokeWidth":1},"rule":{"color":"#5a5a5a","strokeWidth":0.8},"ticks":{"color":"#5a5a5a","size":10}}},
    {"transform":[{"filter":"datum.a=='AG' && datum.age>=39"}],"mark":{"type":"point","filled":true,"size":9,"opacity":1,"strokeWidth":0},"encoding":{"x":{"field":"g","type":"nominal","axis":{"orient":"top","labels":false,"ticks":false,"domain":true,"domainColor":"#222","offset":9,"title":"old  age ≥ 39","titleFontSize":12,"titlePadding":3}},"xOffset":{"field":"age","type":"quantitative","scale":{"domain":[38,78],"range":[4,17],"zero":false,"nice":false}},"color":{"field":"g","type":"nominal","scale":{"domain":["Ctrl","RRMS"],"range":["#2424d8","#1e9a1e"]},"legend":null},"shape":{"field":"g","type":"nominal","scale":{"domain":["Ctrl","RRMS"],"range":["circle","triangle-up"]},"legend":null}}}
   ],
   "resolve":{"axis":{"x":"independent"}}
  },
  {
   "width":56,"height":103,
   "data":{"name":"pts"},
   "encoding":{
    "x":{"field":"g","type":"nominal","scale":{"domain":["Ctrl","RRMS"],"paddingInner":0.1,"paddingOuter":0.27},"axis":{"title":null,"labelAngle":0,"labelFontSize":9.5,"tickSize":3}},
    "y":{"field":"v","type":"quantitative","scale":{"domain":[0,0.004,0.007,0.008],"range":[103,18.4,9.4,0],"nice":false,"zero":false},"axis":{"values":[0,0.001,0.002,0.003,0.004,0.007,0.008],"format":".3f","title":"AEA (pmol/mL)"}}
   },
   "layer":[
    {"transform":[{"filter":"datum.a=='AEA' && datum.age<39"}],"mark":{"type":"boxplot","extent":"min-max","size":20,"box":{"color":"#d4d4d4","stroke":"#5a5a5a","strokeWidth":0.8},"median":{"color":"#333","strokeWidth":1},"rule":{"color":"#5a5a5a","strokeWidth":0.8},"ticks":{"color":"#5a5a5a","size":10}}},
    {"transform":[{"filter":"datum.a=='AEA' && datum.age<39"}],"mark":{"type":"point","filled":true,"size":9,"opacity":1,"strokeWidth":0},"encoding":{"xOffset":{"field":"age","type":"quantitative","scale":{"domain":[17,39],"range":[4,17],"zero":false,"nice":false}},"color":{"field":"g","type":"nominal","scale":{"domain":["Ctrl","RRMS"],"range":["#2424d8","#1e9a1e"]},"legend":null},"shape":{"field":"g","type":"nominal","scale":{"domain":["Ctrl","RRMS"],"range":["circle","triangle-up"]},"legend":null}}},
    {"data":{"name":"ann"},"transform":[{"filter":"datum.id=='B21'"}],"mark":{"type":"rule","color":"#222","strokeWidth":0.8},"encoding":{"x":{"field":"g","type":"nominal","bandPosition":0.5},"x2":{"field":"g2","bandPosition":0.5}}},
    {"data":{"name":"ann"},"transform":[{"filter":"datum.id=='B21'"}],"mark":{"type":"text","fontSize":11,"baseline":"bottom","dy":4},"encoding":{"x":{"field":"g","type":"nominal","bandPosition":1.05},"text":{"field":"t"}}},
    {"data":{"name":"ann"},"transform":[{"filter":"datum.id=='B21L'"}],"mark":{"type":"text","fontSize":7.5,"angle":-50,"align":"center","baseline":"middle"},"encoding":{"x":{"field":"g","type":"nominal","bandPosition":0.5},"text":{"field":"t"}}}
   ]
  },
  {
   "width":56,"height":103,
   "data":{"name":"pts"},
   "encoding":{
    "x":{"field":"g","type":"nominal","scale":{"domain":["Ctrl","RRMS"],"paddingInner":0.1,"paddingOuter":0.27},"axis":{"title":null,"labelAngle":0,"labelFontSize":9.5,"tickSize":3}},
    "y":{"field":"v","type":"quantitative","scale":{"domain":[0,0.005,0.014,0.015],"range":[103,18.4,9.4,0],"nice":false,"zero":false},"axis":{"values":[0,0.001,0.002,0.003,0.004,0.005,0.014,0.015],"format":".3f","title":"AEA (pmol/mL)"}}
   },
   "layer":[
    {"transform":[{"filter":"datum.a=='AEA' && datum.age>=39"}],"mark":{"type":"boxplot","extent":"min-max","size":20,"box":{"color":"#d4d4d4","stroke":"#5a5a5a","strokeWidth":0.8},"median":{"color":"#333","strokeWidth":1},"rule":{"color":"#5a5a5a","strokeWidth":0.8},"ticks":{"color":"#5a5a5a","size":10}}},
    {"transform":[{"filter":"datum.a=='AEA' && datum.age>=39"}],"mark":{"type":"point","filled":true,"size":9,"opacity":1,"strokeWidth":0},"encoding":{"xOffset":{"field":"age","type":"quantitative","scale":{"domain":[38,78],"range":[4,17],"zero":false,"nice":false}},"color":{"field":"g","type":"nominal","scale":{"domain":["Ctrl","RRMS"],"range":["#2424d8","#1e9a1e"]},"legend":null},"shape":{"field":"g","type":"nominal","scale":{"domain":["Ctrl","RRMS"],"range":["circle","triangle-up"]},"legend":null}}}
   ]
  },
  {
   "width":56,"height":103,
   "data":{"name":"pts"},
   "encoding":{
    "x":{"field":"g","type":"nominal","scale":{"domain":["Ctrl","RRMS"],"paddingInner":0.1,"paddingOuter":0.27},"axis":{"title":null,"labelAngle":0,"labelFontSize":9.5,"tickSize":3}},
    "y":{"field":"v","type":"quantitative","scale":{"domain":[0,12,27,28],"range":[103,19,9,0],"nice":false,"zero":false},"axis":{"values":[0,2,4,6,8,10,12,27,28],"format":"d","title":"AA (pmol/mL)"}}
   },
   "layer":[
    {"transform":[{"filter":"datum.a=='AA' && datum.age<39"}],"mark":{"type":"boxplot","extent":"min-max","size":20,"box":{"color":"#d4d4d4","stroke":"#5a5a5a","strokeWidth":0.8},"median":{"color":"#333","strokeWidth":1},"rule":{"color":"#5a5a5a","strokeWidth":0.8},"ticks":{"color":"#5a5a5a","size":10}}},
    {"transform":[{"filter":"datum.a=='AA' && datum.age<39"}],"mark":{"type":"point","filled":true,"size":9,"opacity":1,"strokeWidth":0},"encoding":{"xOffset":{"field":"age","type":"quantitative","scale":{"domain":[17,39],"range":[4,17],"zero":false,"nice":false}},"color":{"field":"g","type":"nominal","scale":{"domain":["Ctrl","RRMS"],"range":["#2424d8","#1e9a1e"]},"legend":null},"shape":{"field":"g","type":"nominal","scale":{"domain":["Ctrl","RRMS"],"range":["circle","triangle-up"]},"legend":null}}},
    {"data":{"name":"ann"},"transform":[{"filter":"datum.id=='B31'"}],"mark":{"type":"rule","color":"#222","strokeWidth":0.8},"encoding":{"x":{"field":"g","type":"nominal","bandPosition":0.5},"x2":{"field":"g2","bandPosition":0.5}}},
    {"data":{"name":"ann"},"transform":[{"filter":"datum.id=='B31'"}],"mark":{"type":"text","fontSize":8,"baseline":"bottom","dy":-1},"encoding":{"x":{"field":"g","type":"nominal","bandPosition":1.05},"text":{"field":"t"}}}
   ]
  },
  {
   "width":56,"height":103,
   "data":{"name":"pts"},
   "encoding":{
    "x":{"field":"g","type":"nominal","scale":{"domain":["Ctrl","RRMS"],"paddingInner":0.1,"paddingOuter":0.27},"axis":{"title":null,"labelAngle":0,"labelFontSize":9.5,"tickSize":3}},
    "y":{"field":"v","type":"quantitative","scale":{"domain":[0,20],"nice":false,"zero":false},"axis":{"values":[0,5,10,15,20],"format":"d","title":"AA (pmol/mL)"}}
   },
   "layer":[
    {"transform":[{"filter":"datum.a=='AA' && datum.age>=39"}],"mark":{"type":"boxplot","extent":"min-max","size":20,"box":{"color":"#d4d4d4","stroke":"#5a5a5a","strokeWidth":0.8},"median":{"color":"#333","strokeWidth":1},"rule":{"color":"#5a5a5a","strokeWidth":0.8},"ticks":{"color":"#5a5a5a","size":10}}},
    {"transform":[{"filter":"datum.a=='AA' && datum.age>=39"}],"mark":{"type":"point","filled":true,"size":9,"opacity":1,"strokeWidth":0},"encoding":{"xOffset":{"field":"age","type":"quantitative","scale":{"domain":[38,78],"range":[4,17],"zero":false,"nice":false}},"color":{"field":"g","type":"nominal","scale":{"domain":["Ctrl","RRMS"],"range":["#2424d8","#1e9a1e"]},"legend":null},"shape":{"field":"g","type":"nominal","scale":{"domain":["Ctrl","RRMS"],"range":["circle","triangle-up"]},"legend":null}}}
   ]
  }
 ]
},
{
 "columns":2,
 "bounds":"flush",
 "spacing":{"row":35,"column":37},
 "concat":[
  {
   "title":{"text":"c"},
   "width":84,"height":95,
   "encoding":{
    "x":{"field":"age","type":"quantitative","scale":{"domain":[12,80],"nice":false,"zero":false},"axis":{"values":[20,40,60,80],"title":"age","titleFontSize":9.5,"labelFontSize":9.5,"titlePadding":1,"tickSize":3,"labelPadding":1}},
    "y":{"field":"v","type":"quantitative","scale":{"domain":[0,0.52],"nice":false,"zero":false},"axis":{"values":[0,0.1,0.2,0.3,0.4,0.5],"format":".1f","title":"CSF 1/2-AG (pmol/mL)","titlePadding":7}}
   },
   "layer":[
    {"data":{"name":"fit"},"transform":[{"filter":"datum.a=='AG' && datum.g=='Ctrl' && datum.k!='fit'"}],"mark":{"type":"line","color":"#999","strokeWidth":0.8,"strokeDash":[1.5,1.5],"interpolate":"monotone"},"encoding":{"x":{"field":"age","type":"quantitative","axis":null},"detail":{"field":"k","type":"nominal"}}},
    {"data":{"name":"fit"},"transform":[{"filter":"datum.a=='AG' && datum.g=='Ctrl' && datum.k=='fit'"}],"mark":{"type":"line","color":"#2424d8","strokeWidth":1.2},"encoding":{"x":{"field":"age","type":"quantitative","axis":{"orient":"top","labels":false,"ticks":false,"domain":true,"domainColor":"#222","offset":11,"title":"Ctrl","titleFontSize":13,"titlePadding":1}}}},
    {"data":{"name":"pts"},"transform":[{"filter":"datum.a=='AG' && datum.g=='Ctrl'"}],"mark":{"type":"point","filled":true,"size":14,"color":"#2424d8","opacity":1,"shape":"circle","strokeWidth":0}},
    {"data":{"name":"ann"},"transform":[{"filter":"datum.id=='C11L'"}],"mark":{"type":"text","align":"left","baseline":"top","dy":-7,"fontSize":7,"fontWeight":"bold","lineHeight":8.5},"encoding":{"x":{"field":"age","type":"quantitative","axis":null},"text":{"field":"t"}}},
    {"data":{"name":"ann"},"transform":[{"filter":"datum.id=='C11R'"}],"mark":{"type":"text","align":"center","baseline":"top","dy":-7,"fontSize":7,"fontWeight":"bold","lineHeight":8.5},"encoding":{"x":{"field":"age","type":"quantitative","axis":null},"text":{"field":"t"}}}
   ],
   "resolve":{"axis":{"x":"independent"}}
  },
  {
   "width":84,"height":95,
   "encoding":{
    "x":{"field":"age","type":"quantitative","scale":{"domain":[10,80],"nice":false,"zero":false},"axis":{"values":[20,40,60,80],"title":"age","titleFontSize":9.5,"labelFontSize":9.5,"titlePadding":1,"tickSize":3,"labelPadding":1}},
    "y":{"field":"v","type":"quantitative","scale":{"domain":[0,0.5,1,2],"range":[95,21.3,10,0],"nice":false,"zero":false},"axis":{"values":[0,0.1,0.2,0.3,0.4,0.5,1,2],"labelExpr":"datum.value >= 1 ? format(datum.value,'d') : format(datum.value,'.1f')","title":"CSF 1/2-AG (pmol/mL)"}}
   },
   "layer":[
    {"data":{"name":"fit"},"transform":[{"filter":"datum.a=='AG' && datum.g=='RRMS' && datum.k!='fit'"}],"mark":{"type":"line","color":"#999","strokeWidth":0.8,"strokeDash":[1.5,1.5],"interpolate":"monotone"},"encoding":{"x":{"field":"age","type":"quantitative","axis":null},"detail":{"field":"k","type":"nominal"}}},
    {"data":{"name":"fit"},"transform":[{"filter":"datum.a=='AG' && datum.g=='RRMS' && datum.k=='fit'"}],"mark":{"type":"line","color":"#1e9a1e","strokeWidth":1.2},"encoding":{"x":{"field":"age","type":"quantitative","axis":{"orient":"top","labels":false,"ticks":false,"domain":true,"domainColor":"#222","offset":11,"title":"RRMS","titleFontSize":13,"titlePadding":1}}}},
    {"data":{"name":"pts"},"transform":[{"filter":"datum.a=='AG' && datum.g=='RRMS'"}],"mark":{"type":"point","filled":true,"size":14,"color":"#1e9a1e","opacity":1,"shape":"triangle-up","strokeWidth":0}},
    {"data":{"name":"ann"},"transform":[{"filter":"datum.id=='C12L'"}],"mark":{"type":"text","align":"left","baseline":"top","dy":-7,"fontSize":7,"lineHeight":8.5},"encoding":{"x":{"field":"age","type":"quantitative","axis":null},"text":{"field":"t"}}},
    {"data":{"name":"ann"},"transform":[{"filter":"datum.id=='C12R'"}],"mark":{"type":"text","align":"center","baseline":"top","dy":-7,"fontSize":7,"lineHeight":8.5},"encoding":{"x":{"field":"age","type":"quantitative","axis":null},"text":{"field":"t"}}}
   ],
   "resolve":{"axis":{"x":"independent"}}
  },
  {
   "width":84,"height":95,
   "encoding":{
    "x":{"field":"age","type":"quantitative","scale":{"domain":[12,80],"nice":false,"zero":false},"axis":{"values":[20,40,60,80],"title":"age","titleFontSize":9.5,"labelFontSize":9.5,"titlePadding":1,"tickSize":3,"labelPadding":1}},
    "y":{"field":"v","type":"quantitative","scale":{"domain":[0,0.005],"nice":false,"zero":false},"axis":{"values":[0,0.001,0.002,0.003,0.004,0.005],"format":".3f","title":"CSF AEA (pmol/mL)","titlePadding":7}}
   },
   "layer":[
    {"data":{"name":"fit"},"transform":[{"filter":"datum.a=='AEA' && datum.g=='Ctrl' && datum.k!='fit'"}],"mark":{"type":"line","color":"#999","strokeWidth":0.8,"strokeDash":[1.5,1.5],"interpolate":"monotone"},"encoding":{"detail":{"field":"k","type":"nominal"}}},
    {"data":{"name":"fit"},"transform":[{"filter":"datum.a=='AEA' && datum.g=='Ctrl' && datum.k=='fit'"}],"mark":{"type":"line","color":"#2424d8","strokeWidth":1.2}},
    {"data":{"name":"pts"},"transform":[{"filter":"datum.a=='AEA' && datum.g=='Ctrl'"}],"mark":{"type":"point","filled":true,"size":14,"color":"#2424d8","opacity":1,"shape":"circle","strokeWidth":0}},
    {"data":{"name":"ann"},"transform":[{"filter":"datum.id=='C21L'"}],"mark":{"type":"text","align":"left","baseline":"top","dy":-7,"fontSize":7,"fontWeight":"bold","lineHeight":8.5},"encoding":{"text":{"field":"t"}}},
    {"data":{"name":"ann"},"transform":[{"filter":"datum.id=='C21R'"}],"mark":{"type":"text","align":"center","baseline":"top","dy":-7,"fontSize":7,"lineHeight":8.5},"encoding":{"text":{"field":"t"}}}
   ]
  },
  {
   "width":84,"height":95,
   "encoding":{
    "x":{"field":"age","type":"quantitative","scale":{"domain":[10,80],"nice":false,"zero":false},"axis":{"values":[20,40,60,80],"title":"age","titleFontSize":9.5,"labelFontSize":9.5,"titlePadding":1,"tickSize":3,"labelPadding":1}},
    "y":{"field":"v","type":"quantitative","scale":{"domain":[0,0.005,0.010,0.015],"range":[95,24,9,0],"nice":false,"zero":false},"axis":{"values":[0,0.001,0.002,0.003,0.004,0.005,0.010,0.015],"format":".3f","title":"CSF AEA (pmol/mL)"}}
   },
   "layer":[
    {"data":{"name":"fit"},"transform":[{"filter":"datum.a=='AEA' && datum.g=='RRMS' && datum.k!='fit'"}],"mark":{"type":"line","color":"#999","strokeWidth":0.8,"strokeDash":[1.5,1.5],"interpolate":"monotone"},"encoding":{"detail":{"field":"k","type":"nominal"}}},
    {"data":{"name":"fit"},"transform":[{"filter":"datum.a=='AEA' && datum.g=='RRMS' && datum.k=='fit'"}],"mark":{"type":"line","color":"#1e9a1e","strokeWidth":1.2}},
    {"data":{"name":"pts"},"transform":[{"filter":"datum.a=='AEA' && datum.g=='RRMS'"}],"mark":{"type":"point","filled":true,"size":14,"color":"#1e9a1e","opacity":1,"shape":"triangle-up","strokeWidth":0}},
    {"data":{"name":"ann"},"transform":[{"filter":"datum.id=='C22L'"}],"mark":{"type":"text","align":"left","baseline":"top","dy":-7,"fontSize":7,"lineHeight":8.5},"encoding":{"text":{"field":"t"}}},
    {"data":{"name":"ann"},"transform":[{"filter":"datum.id=='C22R'"}],"mark":{"type":"text","align":"center","baseline":"top","dy":-5,"fontSize":7,"lineHeight":8.5},"encoding":{"text":{"field":"t"}}}
   ]
  },
  {
   "width":84,"height":95,
   "encoding":{
    "x":{"field":"age","type":"quantitative","scale":{"domain":[12,80],"nice":false,"zero":false},"axis":{"values":[20,40,60,80],"title":"age","titleFontSize":9.5,"labelFontSize":9.5,"titlePadding":1,"tickSize":3,"labelPadding":1}},
    "y":{"field":"v","type":"quantitative","scale":{"domain":[0,18],"nice":false,"zero":false},"axis":{"values":[0,2,4,6,8,10,12,14,16,18],"format":"d","labelFontSize":8.5,"title":"CSF AA (pmol/mL)","titlePadding":7}}
   },
   "layer":[
    {"data":{"name":"fit"},"transform":[{"filter":"datum.a=='AA' && datum.g=='Ctrl' && datum.k!='fit'"}],"mark":{"type":"line","color":"#999","strokeWidth":0.8,"strokeDash":[1.5,1.5],"interpolate":"monotone"},"encoding":{"detail":{"field":"k","type":"nominal"}}},
    {"data":{"name":"fit"},"transform":[{"filter":"datum.a=='AA' && datum.g=='Ctrl' && datum.k=='fit'"}],"mark":{"type":"line","color":"#2424d8","strokeWidth":1.2}},
    {"data":{"name":"pts"},"transform":[{"filter":"datum.a=='AA' && datum.g=='Ctrl'"}],"mark":{"type":"point","filled":true,"size":14,"color":"#2424d8","opacity":1,"shape":"circle","strokeWidth":0}},
    {"data":{"name":"ann"},"transform":[{"filter":"datum.id=='C31L'"}],"mark":{"type":"text","align":"left","baseline":"top","dy":-6,"fontSize":7,"fontWeight":"bold","lineHeight":8.5},"encoding":{"text":{"field":"t"}}},
    {"data":{"name":"ann"},"transform":[{"filter":"datum.id=='C31R'"}],"mark":{"type":"text","align":"center","baseline":"top","dy":-6,"fontSize":7,"fontWeight":"bold","lineHeight":8.5},"encoding":{"text":{"field":"t"}}}
   ]
  },
  {
   "width":84,"height":95,
   "encoding":{
    "x":{"field":"age","type":"quantitative","scale":{"domain":[10,80],"nice":false,"zero":false},"axis":{"values":[20,40,60,80],"title":"age","titleFontSize":9.5,"labelFontSize":9.5,"titlePadding":1,"tickSize":3,"labelPadding":1}},
    "y":{"field":"v","type":"quantitative","scale":{"domain":[0,18,27,28],"range":[95,18.7,8.3,0],"nice":false,"zero":false},"axis":{"values":[0,2,4,6,8,10,12,14,16,18,27,28],"format":"d","labelFontSize":7.5,"title":"CSF AA (pmol/mL)"}}
   },
   "layer":[
    {"data":{"name":"fit"},"transform":[{"filter":"datum.a=='AA' && datum.g=='RRMS' && datum.k!='fit'"}],"mark":{"type":"line","color":"#999","strokeWidth":0.8,"strokeDash":[1.5,1.5],"interpolate":"monotone"},"encoding":{"detail":{"field":"k","type":"nominal"}}},
    {"data":{"name":"fit"},"transform":[{"filter":"datum.a=='AA' && datum.g=='RRMS' && datum.k=='fit'"}],"mark":{"type":"line","color":"#1e9a1e","strokeWidth":1.2}},
    {"data":{"name":"pts"},"transform":[{"filter":"datum.a=='AA' && datum.g=='RRMS'"}],"mark":{"type":"point","filled":true,"size":14,"color":"#1e9a1e","opacity":1,"shape":"triangle-up","strokeWidth":0}},
    {"data":{"name":"ann"},"transform":[{"filter":"datum.id=='C32L'"}],"mark":{"type":"text","align":"left","baseline":"top","dy":-8,"fontSize":7,"lineHeight":8.5},"encoding":{"text":{"field":"t"}}},
    {"data":{"name":"ann"},"transform":[{"filter":"datum.id=='C32R'"}],"mark":{"type":"text","align":"center","baseline":"top","dy":-8,"fontSize":7,"lineHeight":8.5},"encoding":{"text":{"field":"t"}}}
   ]
  }
 ]
}
]
}
